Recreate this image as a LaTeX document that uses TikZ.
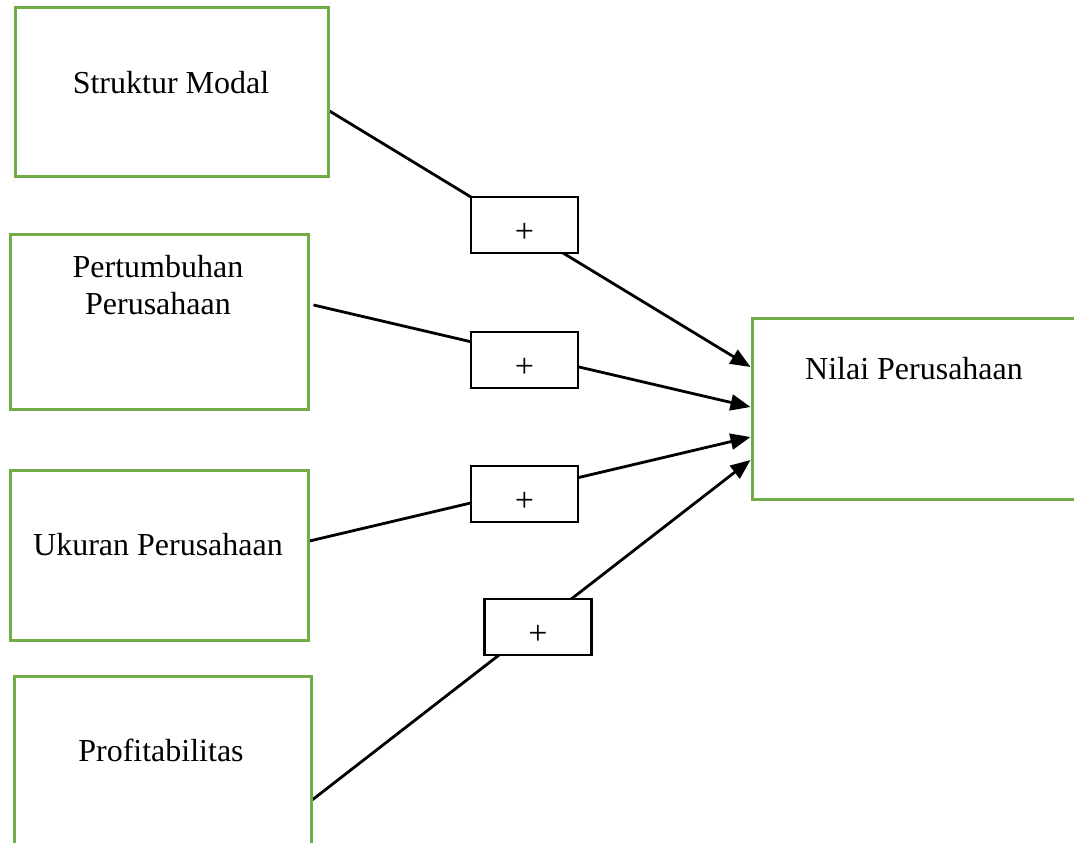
\documentclass[tikz,border=0pt]{standalone}
\usepackage{fontspec}
\setmainfont{Liberation Serif}
\usetikzlibrary{arrows.meta,backgrounds}
\definecolor{varGreen}{RGB}{112,173,71}
\begin{document}
\begin{tikzpicture}[x=1pt,y=-1pt,
  varbox/.style={draw=varGreen,line width=3pt,fill=white,inner sep=0pt},
  signbox/.style={draw=black,line width=2.6pt,fill=white,minimum width=107pt,minimum height=56pt,inner sep=0pt,font=\fontsize{34}{40}\selectfont},
  label text/.style={inner sep=0pt,outer sep=0pt,anchor=base,font=\fontsize{32}{38}\selectfont},
  link/.style={draw=black,line width=2.8pt,-{Triangle[length=20pt,width=16pt]}}]
\useasboundingbox (0,0) rectangle (1074,843);
% variable boxes
\node[varbox,minimum width=313pt,minimum height=168pt] (modal) at (171.5,92) {};
\node[varbox,minimum width=298pt,minimum height=175pt] (tumbuh) at (159,321.5) {};
\node[varbox,minimum width=298pt,minimum height=170pt] (ukuran) at (159,555) {};
\node[varbox,minimum width=297pt,minimum height=194pt] (profit) at (162.5,773) {};
\node[varbox,minimum width=338pt,minimum height=181pt] (nilai) at (921,408.5) {};
\node[label text] (modalTxt) at (171,93) {Struktur Modal};
\node[label text] (tumbuhTxtA) at (158,277) {Pertumbuhan};
\node[label text] (tumbuhTxtB) at (158,314) {Perusahaan};
\node[label text] (ukuranTxt) at (158,555) {Ukuran Perusahaan};
\node[label text] (profitTxt) at (161,761) {Profitabilitas};
\node[label text] (nilaiTxt) at (914,379) {Nilai Perusahaan};
% sign boxes
\node[signbox] (signA) at (524.5,225) {\raisebox{-17pt}[0pt][0pt]{+}};
\node[signbox] (signB) at (524.5,360) {\raisebox{-17pt}[0pt][0pt]{+}};
\node[signbox] (signC) at (524.5,494) {\raisebox{-17pt}[0pt][0pt]{+}};
\node[signbox] (signD) at (538,627) {\raisebox{-17pt}[0pt][0pt]{+}};
% paths to Nilai Perusahaan
\begin{scope}[on background layer]
\draw[link] ([yshift=-19pt]modal.east) -- ([yshift=41.5pt]nilai.west);
\draw[link] ([xshift=4pt,yshift=16.5pt]tumbuh.east) -- ([yshift=1.5pt]nilai.west);
\draw[link] ([yshift=14pt]ukuran.east) -- ([yshift=-28.5pt]nilai.west);
\draw[link] ([xshift=-3pt,yshift=-29pt]profit.east) -- ([yshift=-51.5pt]nilai.west);
\end{scope}
\end{tikzpicture}
\end{document}
